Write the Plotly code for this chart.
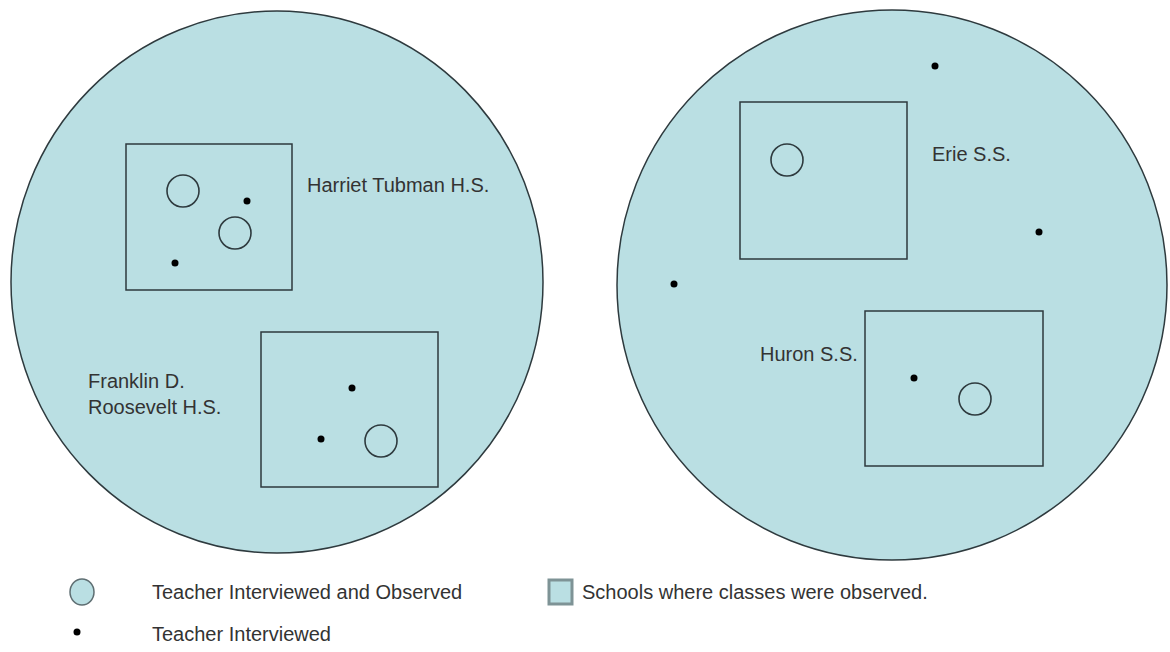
import plotly.graph_objects as go

# ---- data (pixel-space diagram coordinates) ----
region_cx = [277, 892]
region_cy = [282, 285]
region_rx = [266, 275]
region_ry = [271, 275]

school_names = ["Harriet Tubman H.S.", "Franklin D.<br>Roosevelt H.S.", "Erie S.S.", "Huron S.S."]
box_x0 = [126, 261, 740, 865]
box_y0 = [144, 332, 102, 311]
box_x1 = [292, 438, 907, 1043]
box_y1 = [290, 487, 259, 466]
label_x = [305, 86, 930, 758]
label_y = [185, 394, 154, 354]

observed_x = [183, 235, 381, 787, 975]
observed_y = [191, 233, 441, 160, 399]

interviewed_x = [247, 175, 352, 321, 935, 1039, 674, 914]
interviewed_y = [201, 263, 388, 439, 66, 232, 284, 378]

legend_labels = ["Teacher Interviewed and Observed", "Schools where classes were observed.", "Teacher Interviewed"]

FILL = "#BADFE3"
INK = "#2E3A3E"
TXT = "#333333"
FONT = "Liberation Sans, Arial, sans-serif"

fig = go.Figure()
shapes = []
for cx, cy, rx, ry in zip(region_cx, region_cy, region_rx, region_ry):
    shapes.append(dict(type="circle", xref="x", yref="y", x0=cx - rx, x1=cx + rx,
                       y0=cy - ry, y1=cy + ry, fillcolor=FILL,
                       line=dict(color=INK, width=1.5), layer="below"))
for x0, y0, x1, y1 in zip(box_x0, box_y0, box_x1, box_y1):
    shapes.append(dict(type="rect", xref="x", yref="y", x0=x0, x1=x1, y0=y0, y1=y1,
                       fillcolor="rgba(0,0,0,0)", line=dict(color=INK, width=1.5), layer="below"))

# legend swatches
shapes.append(dict(type="circle", xref="x", yref="y", x0=70, x1=94, y0=579, y1=605,
                   fillcolor=FILL, line=dict(color="#5E6E72", width=1.5)))
shapes.append(dict(type="rect", xref="x", yref="y", x0=549, x1=572, y0=580, y1=604,
                   fillcolor=FILL, line=dict(color="#7E9396", width=3)))

fig.add_trace(go.Scatter(x=observed_x, y=observed_y, mode="markers",
                         marker=dict(symbol="circle-open", size=32, color=INK, line=dict(width=1.6)),
                         hoverinfo="skip", showlegend=False))
fig.add_trace(go.Scatter(x=interviewed_x, y=interviewed_y, mode="markers",
                         marker=dict(symbol="circle", size=7, color="#000000"),
                         hoverinfo="skip", showlegend=False))
fig.add_trace(go.Scatter(x=[77], y=[632], mode="markers",
                         marker=dict(symbol="circle", size=7, color="#000000"),
                         hoverinfo="skip", showlegend=False))

annotations = []
for name, x, y in zip(school_names, label_x, label_y):
    annotations.append(dict(x=x, y=y, xref="x", yref="y", text=name, showarrow=False,
                            xanchor="left", yanchor="middle", align="left",
                            font=dict(family=FONT, size=20, color=TXT)))
for name, x, y in zip(legend_labels, [150, 580, 150], [592, 592, 634]):
    annotations.append(dict(x=x, y=y, xref="x", yref="y", text=name, showarrow=False,
                            xanchor="left", yanchor="middle", align="left",
                            font=dict(family=FONT, size=20, color=TXT)))

fig.update_layout(
    width=1170, height=652,
    margin=dict(l=0, r=0, t=0, b=0),
    paper_bgcolor="white", plot_bgcolor="white",
    xaxis=dict(range=[0, 1170], visible=False, fixedrange=True),
    yaxis=dict(range=[652, 0], visible=False, fixedrange=True),
    shapes=shapes, annotations=annotations,
)
fig.write_html("out.html", config={"displayModeBar": False},
               post_script="document.body.style.margin='0';document.body.style.overflow='hidden';")
